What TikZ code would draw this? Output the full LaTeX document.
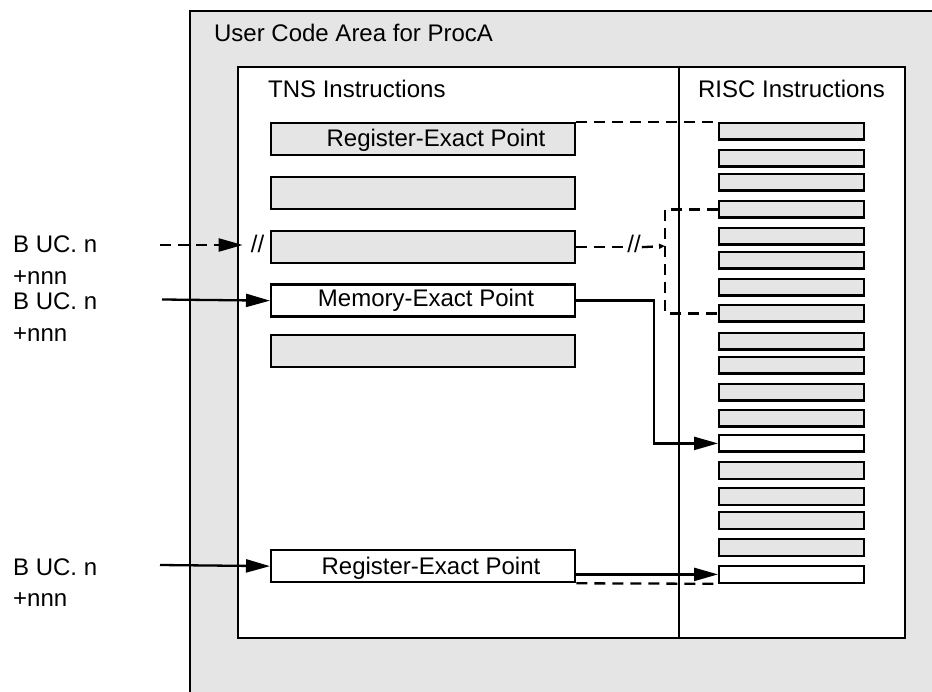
\documentclass[tikz,border=0pt]{standalone}
\usepackage{fontspec}
\setmainfont{Liberation Sans}
\usetikzlibrary{arrows.meta}
\definecolor{panelgrey}{RGB}{229,229,229}
\begin{document}
\begin{tikzpicture}[x=1pt, y=-1pt, line width=2.3pt,
  font=\fontsize{24}{28}\selectfont,
  tnsbox/.style={draw, fill=panelgrey, minimum width=304pt, minimum height=32pt,
    inner sep=0pt, anchor=north west},
  riscbar/.style={draw, minimum width=145pt, minimum height=16.5pt,
    inner sep=0pt, anchor=north west},
  dashline/.style={dash pattern=on 11pt off 7pt},
  bigtip/.style={-{Triangle[length=24pt,width=13pt]}},
  txt/.style={anchor=base west, inner sep=0pt},
  ctxt/.style={anchor=base, inner sep=0pt}]

\useasboundingbox (0,0) rectangle (932,692);

% shaded code area (runs off the page to the right and bottom)
\fill[panelgrey] (190,11) rectangle (932,692);
\draw[line join=miter] (190,692) -- (190,11) -- (932,11);
\node[txt] (areatitle) at (213,41.7) {User Code Area for ProcA};

% white instruction panel with its column divider
\node[draw, fill=white, minimum width=667pt, minimum height=571pt,
  inner sep=0pt, anchor=north west] (codebox) at (237,66) {};
\draw (679,66) -- (679,637);
\node[txt] (tnshead) at (267,98) {TNS Instructions};
\node[ctxt] (rischead) at (791.5,98) {RISC Instructions};

% TNS instructions
\node[tnsbox] (t1) at (270,122) {};
\node[tnsbox] (t2) at (270,176) {};
\node[tnsbox] (t3) at (270,230) {};
\node[tnsbox, fill=white] (t4) at (270,283.5) {};
\node[tnsbox] (t5) at (270,334) {};
\node[tnsbox, fill=white] (t6) at (270,549) {};
\node[ctxt] (t1text) at (436,146.7) {Register-Exact Point};
\node[ctxt] (t4text) at (426,306.7) {Memory-Exact Point};
\node[ctxt] (t6text) at (431,574.3) {Register-Exact Point};

% RISC instructions
\foreach \t/\f [count=\i] in {122/panelgrey,149/panelgrey,173/panelgrey,
    200/panelgrey,227/panelgrey,251/panelgrey,278/panelgrey,304/panelgrey,
    332/panelgrey,356/panelgrey,383/panelgrey,409/panelgrey,434/white,
    461/panelgrey,487/panelgrey,511/panelgrey,538/panelgrey,565/white}
  \node[riscbar, fill=\f] (r\i) at (718,\t) {};

% branch labels on the left
\node[txt] (b1) at (12,253) {B UC. n};
\node[txt] (n1) at (12,285) {+nnn};
\node[txt] (b2) at (12,310) {B UC. n};
\node[txt] (n2) at (12,341.7) {+nnn};
\node[txt] (b3) at (12,575) {B UC. n};
\node[txt] (n3) at (12,606.7) {+nnn};

\coordinate (s1) at (160,245);
\coordinate (s2) at (162,299.5);
\coordinate (s3) at (160,565);

% branch into a non-exact point (not allowed)
\node[ctxt] (sl1) at (257.5,253) {//};
\draw[dashline, bigtip, shorten >=7pt] (s1) -- (s1 -| sl1.west);

% branches into exact points
\draw[bigtip] (s2) -- (t4.west);
\draw[bigtip] (s3) -- (t6.west);

% register-exact point at the top
\draw[dashline] (t1.north east) -- (r1.north west);

% non-exact TNS instruction maps to a group of RISC instructions
\node[ctxt] (sl2) at (634,253) {//};
\coordinate (brk) at (665,246);
\draw[dashline] (t3.east) -- (t3.east -| sl2.west);
\draw[dashline, -{Triangle[length=6pt,width=5pt]}] (t3.east -| sl2.east) -- (brk);
\draw[dashline] (r4.west) -- (r4.west -| brk) -- (r8.west -| brk) -- (r8.west);

% memory-exact point
\draw[bigtip] (t4.east) -- ++(78,0) |- (r13.west);

% register-exact point at the bottom
\draw[bigtip] (t6.east |- r18.west) -- (r18.west);
\draw[dashline] (t6.south east) -- (r18.south west);

\end{tikzpicture}
\end{document}
